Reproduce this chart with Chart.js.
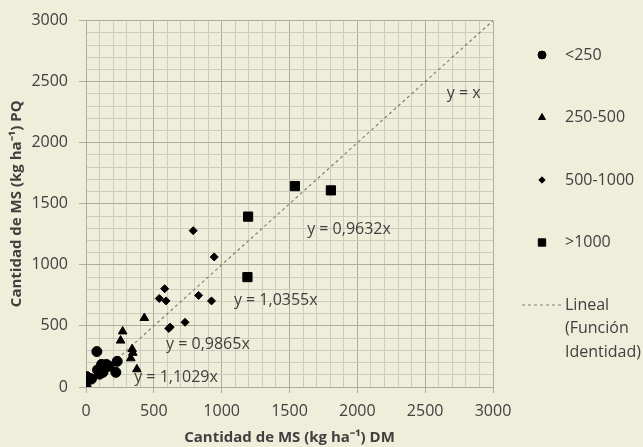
<!DOCTYPE html>
<html lang="es">
<head>
<meta charset="UTF-8" />
<title>Cantidad de MS: PQ vs DM</title>
<script src="https://cdn.jsdelivr.net/npm/chart.js@4.4.1/dist/chart.umd.min.js"></script>
<style>
  html, body { margin: 0; padding: 0; background: #efeedb; }
</style>
</head>
<body>
<canvas id="msChart" width="643" height="447"></canvas>
<script>
  // data (kg/ha): [DM, PQ]
  const grupoMenos250 = [[0, 0], [0, 45], [5, 60], [5, 85], [40, 65], [30, 70], [85, 140], [100, 105],
    [125, 120], [115, 185], [150, 185], [170, 170], [130, 150], [220, 120], [230, 210], [80, 290]];
  const grupo250a500 = [[270, 455], [255, 380], [340, 310], [345, 280], [330, 235], [375, 145], [430, 565]];
  const grupo500a1000 = [[790, 1280], [945, 1065], [580, 805], [540, 725], [590, 705], [830, 750],
    [925, 705], [730, 530], [620, 490], [610, 480]];
  const grupoMas1000 = [[1540, 1645], [1805, 1610], [1195, 1395], [1190, 900]];
  const identidad = [[0, 0], [3000, 3000]];

  const nombres = ["<250", "250-500", "500-1000", ">1000", "Lineal (Función Identidad)"];
  const ecuaciones = ["y = x", "y = 0,9632x", "y = 1,0355x", "y = 0,9865x", "y = 1,1029x"];
  const ecuacionX = [2660, 1630, 1090, 590, 355];
  const ecuacionY = [2400, 1290, 710, 345, 75];

  const FONDO = "#efeedb";
  const TEXTO = "#404040";
  const MAYOR = "#aeae9f";
  const MENOR = "#cdcdbd";

  Chart.defaults.font.family = "'Open Sans', sans-serif";
  Chart.defaults.color = TEXTO;

  const toXY = (arr) => arr.map(p => ({ x: p[0], y: p[1] }));

  const fondo = {
    id: "fondo",
    beforeDraw(chart) {
      const ctx = chart.ctx;
      ctx.save();
      ctx.fillStyle = FONDO;
      ctx.fillRect(0, 0, chart.width, chart.height);
      ctx.restore();
    }
  };

  // text of each fitted equation, placed in data units
  const etiquetas = {
    id: "etiquetas",
    afterDatasetsDraw(chart) {
      const ctx = chart.ctx;
      const xs = chart.scales.x, ys = chart.scales.y;
      ctx.save();
      ctx.font = "16px 'Open Sans', sans-serif";
      ctx.fillStyle = TEXTO;
      ctx.textBaseline = "middle";
      ctx.textAlign = "left";
      ecuaciones.forEach((t, i) => {
        ctx.fillText(t, xs.getPixelForValue(ecuacionX[i]), ys.getPixelForValue(ecuacionY[i]));
      });
      ctx.restore();
    }
  };

  // legend on the right, one item every ~62px
  const leyenda = {
    id: "leyenda",
    afterDraw(chart) {
      const ctx = chart.ctx;
      const area = chart.chartArea;
      const mx = area.right + 49, tx = area.right + 72;
      ctx.save();
      ctx.font = "16px 'Open Sans', sans-serif";
      ctx.textBaseline = "middle";
      chart.data.datasets.forEach((ds, i) => {
        const y = 55 + i * 62.5;
        if (ds.showLine) {
          ctx.strokeStyle = ds.borderColor;
          ctx.lineWidth = ds.borderWidth;
          ctx.setLineDash(ds.borderDash);
          ctx.beginPath();
          ctx.moveTo(mx - 20, y);
          ctx.lineTo(tx - 4, y);
          ctx.stroke();
          ctx.setLineDash([]);
          ctx.fillStyle = TEXTO;
          ["Lineal", "(Función", "Identidad)"].forEach((l, k) => ctx.fillText(l, tx, y + k * 23.5));
        } else {
          ctx.fillStyle = "#000";
          ctx.strokeStyle = "#000";
          Chart.helpers.drawPoint(ctx, {
            pointStyle: ds.pointStyle, rotation: 0,
            radius: ds.legendRadius, borderWidth: 1
          }, mx, y);
          ctx.fillStyle = TEXTO;
          ctx.fillText(ds.label, tx, y);
        }
      });
      ctx.restore();
    }
  };

  function punto(label, data, style, r) {
    return {
      label: label,
      data: toXY(data),
      pointStyle: style,
      pointRadius: r,
      legendRadius: r * 0.8,
      pointBackgroundColor: "#000",
      pointBorderColor: "#000",
      pointBorderWidth: 1,
      showLine: false,
      order: 1
    };
  }

  const ejeComun = {
    type: "linear",
    min: 0,
    max: 3000,
    border: { color: MAYOR, width: 1 },
    grid: {
      color: c => (c.tick && c.tick.value % 500 === 0) ? MAYOR : MENOR,
      tickColor: c => (c.tick && c.tick.value % 500 === 0) ? MAYOR : "rgba(0,0,0,0)",
      lineWidth: 1
    }
  };

  new Chart(document.getElementById("msChart"), {
    type: "scatter",
    data: {
      datasets: [
        punto(nombres[0], grupoMenos250, "circle", 5),
        punto(nombres[1], grupo250a500, "triangle", 5),
        punto(nombres[2], grupo500a1000, "rectRot", 4),
        punto(nombres[3], grupoMas1000, "rect", 6.5),
        {
          label: nombres[4],
          data: toXY(identidad),
          showLine: true,
          borderColor: "#7f7f7f",
          borderWidth: 1.2,
          borderDash: [3, 3],
          pointRadius: 0,
          order: 10
        }
      ]
    },
    options: {
      responsive: false,
      animation: false,
      layout: { padding: { top: 18, right: 150, left: 0, bottom: 0 } },
      plugins: {
        legend: { display: false },
        tooltip: { enabled: false }
      },
      scales: {
        x: Object.assign({}, ejeComun, {
          position: "bottom",
          afterFit: s => { s.height = 60; },
          grid: Object.assign({}, ejeComun.grid, { tickLength: 6 }),
          ticks: {
            stepSize: 100, autoSkip: false, maxRotation: 0, padding: 9,
            font: { size: 16 },
            callback: v => v % 500 === 0 ? v : ""
          },
          title: {
            display: true,
            text: "Cantidad de MS (kg ha⁻¹) DM",
            font: { size: 15, weight: "bold" },
            padding: { top: 0, bottom: 0 }
          }
        }),
        y: Object.assign({}, ejeComun, {
          position: "left",
          afterFit: s => { s.width = 86; },
          grid: Object.assign({}, ejeComun.grid, { tickLength: 7 }),
          ticks: {
            stepSize: 100, autoSkip: false, padding: 11,
            font: { size: 16 },
            callback: v => v % 500 === 0 ? v : ""
          },
          title: {
            display: true,
            text: "Cantidad de MS (kg ha⁻¹) PQ",
            font: { size: 15, weight: "bold" },
            padding: { top: 8, bottom: 0 }
          }
        })
      }
    },
    plugins: [fondo, etiquetas, leyenda]
  });
</script>
</body>
</html>
